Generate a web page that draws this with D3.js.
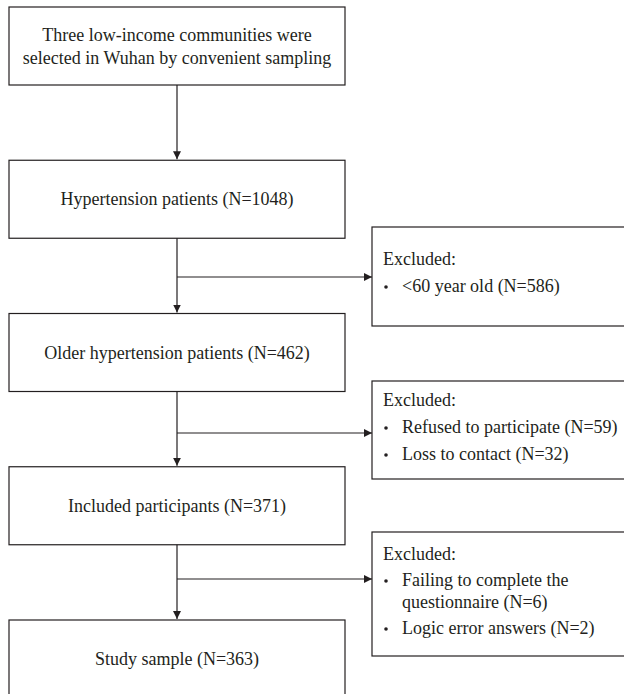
<!DOCTYPE html>
<html>
<head>
  <meta charset="utf-8">
  <title>Flow chart</title>
  <script src="https://cdnjs.cloudflare.com/ajax/libs/d3/7.8.5/d3.min.js"></script>
  <style>
    body { margin: 0; background: #fff; }
    text { font-family: "Liberation Serif", "DejaVu Serif", serif; fill: #231f20; }
  </style>
</head>
<body>
  <script>
    // steps of the flow (main column)
    const stepLabels = [
      ["Three low-income communities were", "selected in Wuhan by convenient sampling"],
      ["Hypertension patients (N=1048)"],
      ["Older hypertension patients (N=462)"],
      ["Included participants (N=371)"],
      ["Study sample (N=363)"]
    ];
    // exclusions between steps (index = step the arrow leaves from)
    const exclFrom = [1, 2, 3];
    const exclItems = [
      [["<60 year old (N=586)"]],
      [["Refused to participate (N=59)"], ["Loss to contact (N=32)"]],
      [["Failing to complete the", "questionnaire (N=6)"], ["Logic error answers (N=2)"]]
    ];

    const width = 624, height = 694;
    const boxX = 9, boxW = 336, boxH = 78;
    const cx = boxX + boxW / 2;
    const exX = 372, exW = 270;
    const fs = 18;
    const ink = "#231f20";

    const svg = d3.select("body")
      .append("svg")
      .attr("width", width)
      .attr("height", height);

    const defs = svg.append("defs");
    defs.append("marker")
      .attr("id", "arrow")
      .attr("viewBox", "0 0 10 10")
      .attr("refX", 10).attr("refY", 5)
      .attr("markerWidth", 8).attr("markerHeight", 8)
      .attr("markerUnits", "userSpaceOnUse")
      .attr("orient", "auto")
      .append("path")
      .attr("d", "M0,0 L10,5 L0,10 Z")
      .attr("fill", ink);

    // vertical placement of the main boxes
    const yStep = d3.scalePoint()
      .domain(d3.range(stepLabels.length))
      .range([7, 620]);

    const steps = svg.append("g");
    const step = steps.selectAll("g")
      .data(stepLabels)
      .enter()
      .append("g")
      .attr("transform", (d, i) => `translate(${boxX},${yStep(i)})`);

    step.append("rect")
      .attr("width", boxW)
      .attr("height", boxH)
      .attr("fill", "none")
      .attr("stroke", ink)
      .attr("stroke-width", 1.2);

    step.append("text")
      .attr("text-anchor", "middle")
      .attr("font-size", fs)
      .selectAll("tspan")
      .data(d => d.map((t, j) => ({t, j, n: d.length})))
      .enter()
      .append("tspan")
      .attr("x", boxW / 2)
      .attr("y", d => boxH / 2 + 6 + (d.j - (d.n - 1) / 2) * 23)
      .text(d => d.t);

    // vertical arrows between main boxes
    svg.append("g").selectAll("line")
      .data(d3.range(stepLabels.length - 1))
      .enter()
      .append("line")
      .attr("x1", cx).attr("x2", cx)
      .attr("y1", i => yStep(i) + boxH)
      .attr("y2", i => yStep(i + 1) - 1)
      .attr("stroke", ink)
      .attr("stroke-width", 1.2)
      .attr("marker-end", "url(#arrow)");

    // exclusion boxes
    const arrowY = [277, 433, 579];
    const exTop = [227, 381, 532];
    const exH = [99, 98, 124];
    const lineGap = [27, 27, 26];

    const ex = svg.append("g").selectAll("g")
      .data(exclItems)
      .enter()
      .append("g");

    ex.append("line")
      .attr("x1", cx)
      .attr("x2", exX)
      .attr("y1", (d, i) => arrowY[i])
      .attr("y2", (d, i) => arrowY[i])
      .attr("stroke", ink)
      .attr("stroke-width", 1.2)
      .attr("marker-end", "url(#arrow)");

    ex.append("rect")
      .attr("x", exX)
      .attr("y", (d, i) => exTop[i])
      .attr("width", exW)
      .attr("height", (d, i) => exH[i])
      .attr("fill", "none")
      .attr("stroke", ink)
      .attr("stroke-width", 1.2);

    ex.each(function(items, i) {
      const g = d3.select(this);
      const firstY = [265, 406, 560][i];
      g.append("text")
        .attr("x", exX + 11)
        .attr("y", firstY)
        .attr("font-size", fs)
        .text("Excluded:");
      let y = firstY;
      items.forEach(lines => {
        y += lineGap[i];
        g.append("circle")
          .attr("cx", exX + 14)
          .attr("cy", y - 5)
          .attr("r", 1.8)
          .attr("fill", ink);
        lines.forEach((t, k) => {
          if (k > 0) y += 22;
          g.append("text")
            .attr("x", exX + 30)
            .attr("y", y)
            .attr("font-size", fs)
            .text(t);
        });
      });
    });
  </script>
</body>
</html>
